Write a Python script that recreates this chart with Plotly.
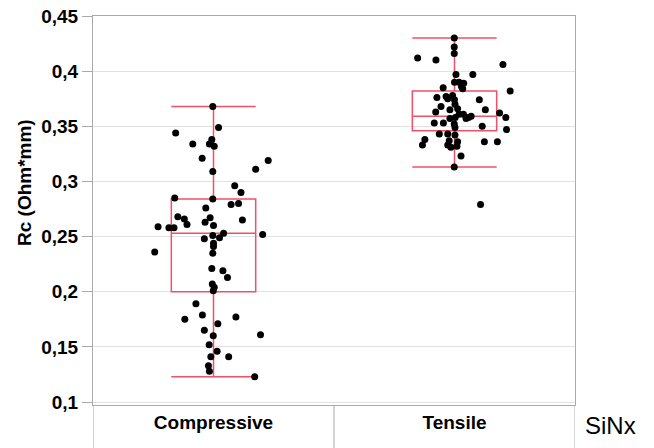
import plotly.graph_objects as go

categories = ["Compressive", "Tensile"]

# Compressive group: values and horizontal jitter (fraction of category width)
comp_y = [0.368, 0.349, 0.344, 0.334, 0.338, 0.334, 0.332, 0.321, 0.309, 0.311,
          0.319, 0.296, 0.290, 0.285, 0.284, 0.276, 0.279, 0.280, 0.268, 0.266,
          0.261, 0.267, 0.263, 0.260, 0.265, 0.259, 0.258, 0.258, 0.251, 0.253,
          0.249, 0.248, 0.252, 0.244, 0.241, 0.235, 0.236, 0.221, 0.219, 0.213,
          0.207, 0.204, 0.201, 0.189, 0.179, 0.175, 0.177, 0.165, 0.171, 0.160,
          0.161, 0.152, 0.146, 0.141, 0.141, 0.133, 0.128, 0.123]
comp_jit = [-0.003, 0.021, -0.157, -0.086, -0.007, -0.017, 0.003, -0.047, -0.003, 0.175,
            0.227, 0.088, 0.114, -0.161, -0.003, -0.032, 0.073, 0.104, -0.148, -0.121,
            -0.110, -0.014, -0.035, 0.000, 0.120, -0.230, -0.185, -0.164, -0.003, 0.042,
            0.025, -0.038, 0.204, 0.000, 0.000, -0.003, -0.244, -0.007, 0.039, 0.058,
            -0.005, 0.003, -0.001, -0.073, -0.046, -0.119, 0.093, -0.038, 0.018, -0.001,
            0.195, -0.018, 0.015, -0.011, 0.063, -0.021, -0.017, 0.171]

# Tensile group
tens_y = [0.430, 0.422, 0.416, 0.412, 0.410, 0.406, 0.397, 0.397, 0.390, 0.390,
          0.389, 0.386, 0.384, 0.385, 0.382, 0.376, 0.377, 0.375, 0.378, 0.374,
          0.370, 0.374, 0.368, 0.365, 0.366, 0.365, 0.363, 0.362, 0.358, 0.358,
          0.361, 0.357, 0.359, 0.358, 0.353, 0.353, 0.352, 0.349, 0.350, 0.347,
          0.343, 0.343, 0.342, 0.336, 0.337, 0.333, 0.331, 0.332, 0.338, 0.333,
          0.336, 0.336, 0.323, 0.313, 0.279, 0.357, 0.361]
tens_jit = [-0.001, -0.001, -0.001, -0.153, -0.077, 0.201, 0.006, 0.076, 0.000, 0.019,
            0.038, 0.029, 0.034, -0.047, 0.231, -0.073, -0.035, -0.028, -0.008, 0.000,
            0.002, 0.103, -0.056, -0.019, 0.013, 0.128, -0.078, 0.187, 0.213, 0.003,
            0.037, 0.048, 0.069, 0.058, -0.046, -0.084, -0.001, 0.002, 0.115, 0.216,
            -0.063, -0.028, 0.002, 0.013, -0.022, -0.028, -0.015, 0.010, -0.123, -0.133,
            0.124, 0.178, 0.027, -0.001, 0.108, -0.019, 0.019]

# Box statistics (lower whisker, Q1, median, Q3, upper whisker)
box_low = [0.123, 0.313]
box_q1 = [0.200, 0.346]
box_med = [0.253, 0.359]
box_q3 = [0.284, 0.382]
box_high = [0.368, 0.430]

y_ticks = [0.1, 0.15, 0.2, 0.25, 0.3, 0.35, 0.4, 0.45]
y_tick_text = ["0,1", "0,15", "0,2", "0,25", "0,3", "0,35", "0,4", "0,45"]

BOX_COLOR = "rgb(240,80,104)"
AXIS_COLOR = "rgb(170,170,170)"
GRID_COLOR = "rgb(226,226,226)"
FONT = "Liberation Sans"

fig = go.Figure()

fig.add_trace(go.Box(
    x=[0, 1],
    lowerfence=box_low, q1=box_q1, median=box_med, q3=box_q3, upperfence=box_high,
    width=0.35, whiskerwidth=1,
    line=dict(color=BOX_COLOR, width=1.5),
    fillcolor="rgba(0,0,0,0)",
    boxpoints=False,
    showlegend=False,
    hoverinfo="skip",
))

groups = [(0, comp_y, comp_jit), (1, tens_y, tens_jit)]
for idx, ys, jit in groups:
    fig.add_trace(go.Scatter(
        x=[idx + j for j in jit], y=ys,
        mode="markers",
        marker=dict(color="black", size=7),
        showlegend=False,
        hoverinfo="skip",
    ))

# category strip separators below the plot
strip_h = 43 / 389
for xv in [-0.5, 0.5, 1.5]:
    fig.add_shape(type="line", xref="x", yref="paper", x0=xv, x1=xv, y0=0, y1=-strip_h,
                  line=dict(color=AXIS_COLOR, width=1))

fig.add_annotation(text="SiNx", xref="paper", yref="paper", x=1.0, y=-0.012,
                   xanchor="left", yanchor="top", xshift=8, showarrow=False,
                   font=dict(family=FONT, size=24, color="black"))

# y-axis title placed as in the reference (centred around 0.3 of the value range)
fig.add_annotation(text="Rc (Ohm*mm)", xref="paper", yref="paper", x=0, y=(405 - 183) / 389,
                   xanchor="center", yanchor="middle", xshift=-69, textangle=-90,
                   showarrow=False,
                   font=dict(family=FONT, size=19, color="black", weight="bold"))

fig.update_layout(
    width=654, height=448,
    margin=dict(l=93, r=79, t=16, b=43),
    plot_bgcolor="white", paper_bgcolor="white",
    font=dict(family=FONT, color="black"),
    xaxis=dict(
        range=[-0.5, 1.5], automargin=False,
        tickvals=[0, 1], ticktext=categories,
        tickfont=dict(family=FONT, size=19, color="black", weight="bold"),
        ticks="", showgrid=False, zeroline=False,
        showline=True, linecolor=AXIS_COLOR, linewidth=1, mirror=True,
    ),
    yaxis=dict(
        range=[0.0973, 0.45], automargin=False,
        tickvals=y_ticks, ticktext=y_tick_text,
        tickfont=dict(family=FONT, size=19, color="black", weight="bold"),
        ticks="outside", ticklen=10, tickcolor=AXIS_COLOR,
        showgrid=True, gridcolor=GRID_COLOR, gridwidth=1,
        zeroline=False,
        showline=True, linecolor=AXIS_COLOR, linewidth=1, mirror=True,
    ),
)

fig.write_html("out.html")
